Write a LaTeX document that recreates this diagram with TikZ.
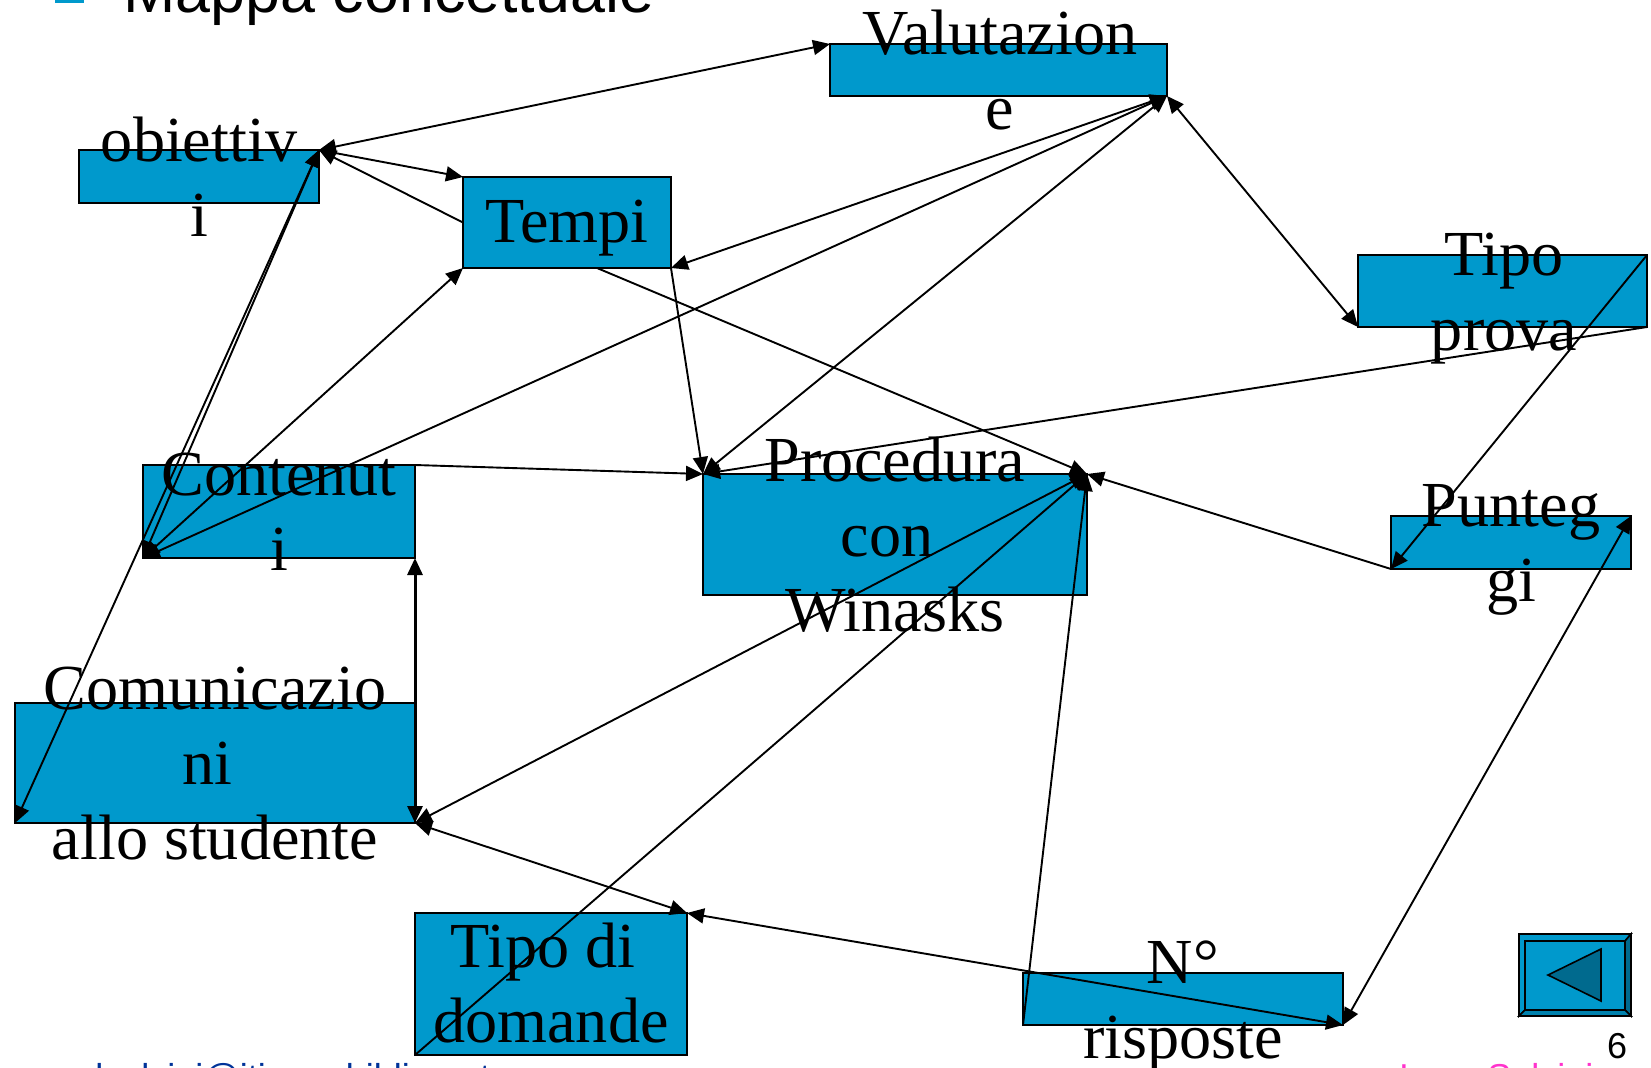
\documentclass[tikz,border=0pt]{standalone}
\usepackage{fontspec}
\setmainfont{Liberation Serif}
\newfontfamily\arialfont{Liberation Sans}
\usetikzlibrary{arrows.meta}
\definecolor{boxblue}{HTML}{0099CC}
\definecolor{boxdark}{HTML}{006A8E}
\definecolor{footblue}{HTML}{003399}
\definecolor{footpink}{HTML}{FF33CC}
\newcommand{\trailsp}{\rule{0.25em}{0pt}}
\tikzset{
	mapbox/.style={draw,fill=boxblue,line width=0.8pt,inner sep=0pt,outer sep=0pt,anchor=north west},
	maplabel/.style={inner sep=0pt,align=center,font=\fontsize{32.1}{37.5}\selectfont},
	footlabel/.style={anchor=base west,inner sep=0pt,font=\arialfont\fontsize{18}{20}\selectfont},
	link/.style={line width=0.95pt,>={Triangle[length=8.5pt,width=7.5pt]}},
}
\begin{document}
\begin{tikzpicture}[x=0.5pt,y=-0.5pt]
	\useasboundingbox (0,0) rectangle (1651,1067);
	% title and footer
	\fill[boxblue] (55,-2) rectangle (84,3);
	\node[anchor=base west,inner sep=0pt,font=\arialfont\fontsize{31.4}{36}\selectfont] (title) at (123,12) {Mappa concettuale};
	\node[anchor=base,inner sep=0pt,font=\arialfont\fontsize{18}{20}\selectfont] (pagenum) at (1617,1058) {6};
	\node[footlabel,text=footblue] (mailfoot) at (95,1089) {lsalvini@itimon.biblio.net};
	\node[footlabel,text=footpink] (namefoot) at (1399,1089) {Luca Salvini};
	% boxes
	\node[mapbox,minimum width=168.5pt,minimum height=26pt] (valutazione) at (830,44) {};
	\node[mapbox,minimum width=120pt,minimum height=26.5pt] (obiettivi) at (79,150) {};
	\node[mapbox,minimum width=104pt,minimum height=45.5pt] (tempi) at (463,177) {};
	\node[mapbox,minimum width=144.5pt,minimum height=36pt] (tipoprova) at (1358,255) {};
	\node[mapbox,minimum width=136pt,minimum height=46.5pt] (contenuti) at (143,465) {};
	\node[mapbox,minimum width=192pt,minimum height=60.5pt] (procedura) at (703,474) {};
	\node[mapbox,minimum width=120pt,minimum height=26.5pt] (punteggi) at (1391,516) {};
	\node[mapbox,minimum width=200pt,minimum height=60pt] (comunicazioni) at (15,703) {};
	\node[mapbox,minimum width=136pt,minimum height=71pt] (tipodomande) at (415,913) {};
	\node[mapbox,minimum width=160pt,minimum height=26pt] (risposte) at (1023,973) {};
	% labels
	\node[maplabel] (valutazioneText) at (1000,70) {Valutazion\\e};
	\node[maplabel] (obiettiviText) at (199,177) {obiettiv\\i};
	\node[maplabel] (tempiText) at (567,228) {Tempi};
	\node[maplabel] (tipoprovaText) at (1504,299) {Tipo\\prova};
	\node[maplabel] (contenutiText) at (279,512) {Contenut\\i};
	\node[maplabel] (proceduraText) at (895,535) {Procedura\\con\trailsp\\Winasks};
	\node[maplabel] (punteggiText) at (1511,550) {Punteg\\gi};
	\node[maplabel] (comunicazioniText) at (215,764) {Comunicazio\\ni\trailsp\\allo studente};
	\node[maplabel] (tipodomandeText) at (551,983) {Tipo di\trailsp\\domande};
	\node[maplabel] (risposteText) at (1183,1006) {N°\\risposte};
	% back button
	\node[mapbox,minimum width=56pt,minimum height=41pt] (backbtn) at (1519,934) {};
	\draw[line width=0.8pt,fill=boxblue] (backbtn.north west) -- (backbtn.north east) -- ++(-6,7) -- ++(-100,0) -- ++(0,69) -- (backbtn.south west) -- cycle;
	\draw[line width=0.8pt,fill=boxdark] (backbtn.north east) -- (backbtn.south east) -- ++(-6,-6) -- ++(0,-69) -- cycle;
	\draw[line width=0.8pt,fill=boxdark!50!boxblue] (backbtn.south west) -- (backbtn.south east) -- ++(-6,-6) -- ++(-100,0) -- cycle;
	\draw[line width=0.8pt,fill=boxdark] (1548,975) -- (1601,949) -- (1601,1001) -- cycle;
	% connectors
	\coordinate (tempifoot) at (597,268);
	\draw[link,<->] (obiettivi.north east) -- (valutazione.north west);
	\draw[link,->] (obiettivi.north east) -- (tempi.north west);
	\draw[link,->] (tempi.west) -- (obiettivi.north east);
	\draw[link,<->] (tempi.south east) -- (valutazione.south east);
	\draw[link,->] (tempi.south east) -- (procedura.north west);
	\draw[link,->] (tempifoot) -- (procedura.north east);
	\draw[link,<->] (valutazione.south east) -- (procedura.north west);
	\draw[link,<->] (valutazione.south east) -- (contenuti.south west);
	\draw[link,<->] (valutazione.south east) -- (tipoprova.south west);
	\draw[link,->] (tipoprova.south east) -- (procedura.north west);
	\draw[link,->] (tipoprova.north east) -- (punteggi.south west);
	\draw[link,->] (punteggi.south west) -- (procedura.north east);
	\draw[link,<->] (punteggi.north east) -- (risposte.south east);
	\draw[link,->] (contenuti.north east) -- (procedura.north west);
	\draw[link,<->] (contenuti.south west) -- (tempi.south west);
	\draw[link,<->] (contenuti.south west) -- (obiettivi.north east);
	\draw[link,<->] (comunicazioni.south west) -- (obiettivi.north east);
	\draw[link,<->,line width=1.5pt] (contenuti.south east) -- (comunicazioni.south east);
	\draw[link,<->] (comunicazioni.south east) -- (procedura.north east);
	\draw[link,<->] (comunicazioni.south east) -- (tipodomande.north east);
	\draw[link,->] (tipodomande.south west) -- (procedura.north east);
	\draw[link,<->] (tipodomande.north east) -- (risposte.south east);
	\draw[link,->] (risposte.south west) -- (procedura.north east);
\end{tikzpicture}
\end{document}
